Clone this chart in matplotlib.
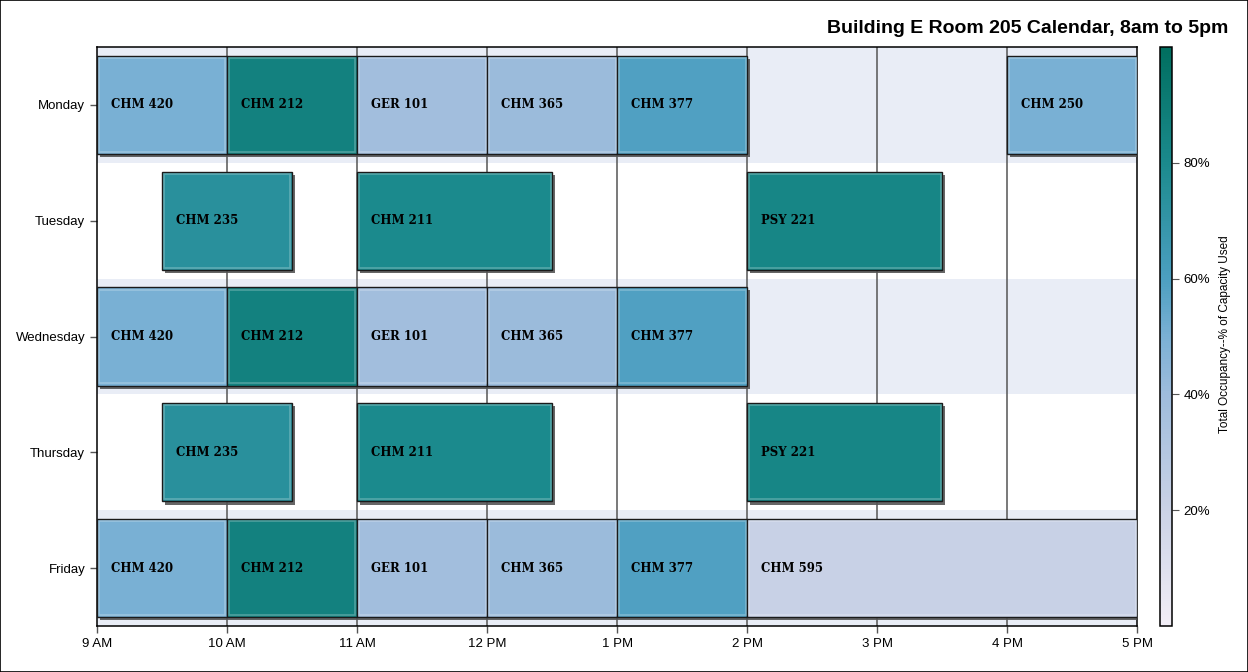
import matplotlib
matplotlib.use("Agg")
import matplotlib.pyplot as plt
from matplotlib.colors import LinearSegmentedColormap, Normalize
from matplotlib.patches import Rectangle
import matplotlib.patheffects as pe
from matplotlib.ticker import FuncFormatter

days = ['Monday', 'Tuesday', 'Wednesday', 'Thursday', 'Friday']
hour_ticks = [9, 10, 11, 12, 13, 14, 15, 16, 17]
hour_labels = ['9 AM', '10 AM', '11 AM', '12 PM', '1 PM', '2 PM', '3 PM', '4 PM', '5 PM']

course_names = ['CHM 420', 'CHM 212', 'GER 101', 'CHM 365', 'CHM 377', 'CHM 250',
                'CHM 235', 'CHM 211', 'PSY 221',
                'CHM 420', 'CHM 212', 'GER 101', 'CHM 365', 'CHM 377',
                'CHM 235', 'CHM 211', 'PSY 221',
                'CHM 420', 'CHM 212', 'GER 101', 'CHM 365', 'CHM 377', 'CHM 595']
course_days = ['Monday'] * 6 + ['Tuesday'] * 3 + ['Wednesday'] * 5 + ['Thursday'] * 3 + ['Friday'] * 6
course_start = [9, 10, 11, 12, 13, 16,
                9.5, 11, 14,
                9, 10, 11, 12, 13,
                9.5, 11, 14,
                9, 10, 11, 12, 13, 14]
course_end = [10, 11, 12, 13, 14, 17,
              10.5, 12.5, 15.5,
              10, 11, 12, 13, 14,
              10.5, 12.5, 15.5,
              10, 11, 12, 13, 14, 17]
occ_by_course = {'CHM 420': 50, 'CHM 212': 86, 'GER 101': 38, 'CHM 365': 41, 'CHM 377': 59,
                 'CHM 250': 50, 'CHM 235': 74, 'CHM 211': 80, 'PSY 221': 83, 'CHM 595': 21}
course_occ = [occ_by_course[c] for c in course_names]

cmap = LinearSegmentedColormap.from_list('occ', [
    (0.0, '#F2EEF6'), (0.2, '#CAD2E6'), (0.4, '#9EBCDC'), (0.5, '#7AB0D4'),
    (0.6, '#4C9FC1'), (0.8, '#1B8A8D'), (1.0, '#006E5F')])
norm = Normalize(vmin=0, vmax=100)

fig = plt.figure(figsize=(12.48, 6.72), dpi=100)
fig.patch.set_facecolor('white')
fig.patches.append(Rectangle((0.0004, 0.0007), 0.9992, 0.9986, transform=fig.transFigure,
                             fill=False, edgecolor='black', linewidth=1.2))

ax = fig.add_axes([0.0777, 0.0685, 0.9113 - 0.0777, 0.930 - 0.0685])
ax.set_xlim(9, 17)
ax.set_ylim(len(days) - 0.5, -0.5)

# alternating bands
for i, d in enumerate(days):
    if i % 2 == 0:
        ax.axhspan(i - 0.5, i + 0.5, color='#E9EDF6', zorder=0, lw=0)

for h in hour_ticks[1:-1]:
    ax.axvline(h, color='#555555', lw=1.1, zorder=1)

bar_h = 0.85
for name, d, s, e, o in zip(course_names, course_days, course_start, course_end, course_occ):
    y = days.index(d)
    col = cmap(norm(o))
    r = Rectangle((s, y - bar_h / 2), e - s, bar_h, facecolor=col, edgecolor='#1a1a1a',
                  lw=1.0, zorder=3,
                  path_effects=[pe.SimplePatchShadow(offset=(2.2, -2.2), shadow_rgbFace='#555555', alpha=0.9),
                                pe.Normal()])
    ax.add_patch(r)
    # inner highlight
    ax.add_patch(Rectangle((s + 0.012, y - bar_h / 2 + 0.02), e - s - 0.024, bar_h - 0.04,
                           fill=False, edgecolor=(1, 1, 1, 0.25), lw=1.2, zorder=4))
    ax.text(s + 0.105, y, name, ha='left', va='center', fontsize=8.5, fontweight='bold',
            family=['DejaVu Serif'], color='black', zorder=5)

ax.set_xticks(hour_ticks)
ax.set_xticklabels(hour_labels)
ax.set_yticks(range(len(days)))
ax.set_yticklabels(days)
ax.tick_params(axis='both', labelsize=9.5, length=5, color='#555555', width=1)
for lab in ax.get_xticklabels() + ax.get_yticklabels():
    lab.set_family('Liberation Sans')
for sp in ax.spines.values():
    sp.set_color('black')
    sp.set_linewidth(1.1)

fig.text(0.984, 0.958, 'Building E Room 205 Calendar, 8am to 5pm', ha='right', va='center',
         fontsize=14, fontweight='bold', family='Liberation Sans')

cax = fig.add_axes([1160 / 1248, 0.0685, 12 / 1248, 0.930 - 0.0685])
sm = plt.cm.ScalarMappable(norm=norm, cmap=cmap)
cb = fig.colorbar(sm, cax=cax, ticks=[20, 40, 60, 80])
cb.ax.yaxis.set_major_formatter(FuncFormatter(lambda v, p: f'{int(v)}%'))
cb.ax.tick_params(labelsize=9.5, length=5, color='#555555')
for lab in cb.ax.get_yticklabels():
    lab.set_family('Liberation Sans')
cb.outline.set_edgecolor('black')
cb.outline.set_linewidth(1.1)
fig.text(1225 / 1248, 1 - 334 / 672, 'Total Occupancy--% of Capacity Used', rotation=90,
         ha='center', va='center', fontsize=8.5, family='Liberation Sans')

fig.savefig('out.png', dpi=100)
